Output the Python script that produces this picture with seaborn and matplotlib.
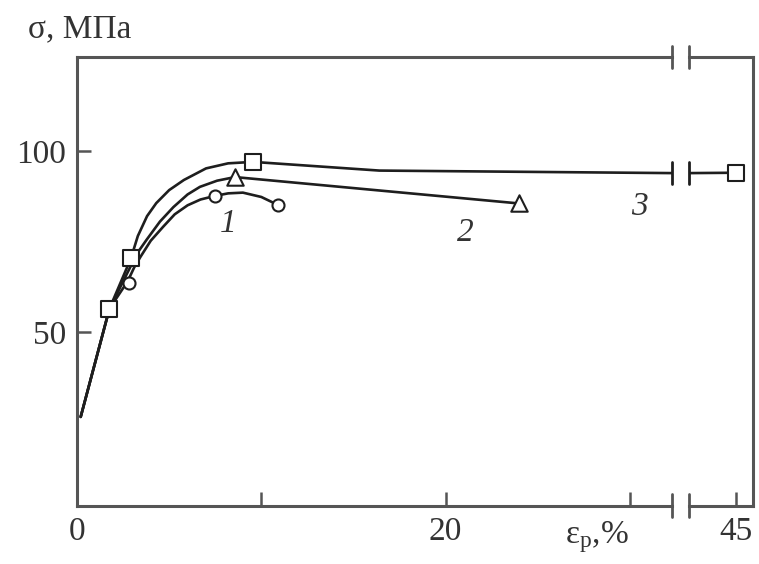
import matplotlib
matplotlib.use("Agg")
import matplotlib.pyplot as plt
import matplotlib.transforms as mtransforms
import seaborn as sns

# ---- data (strain eps_p, % ; stress sigma, MPa) ----
c1_strain = [0.2, 1.76, 2.75, 3.1, 3.45, 4.0, 4.68, 5.3, 6.0, 6.7, 7.49, 8.2, 9.0, 10.0, 10.9]
c1_stress = [26.5, 56.4, 64.0, 67.8, 70.8, 75.2, 79.1, 82.5, 85.0, 86.6, 87.6, 88.3, 88.5, 87.3, 85.1]
c1_mk_strain = [2.8, 7.49, 10.9]
c1_mk_stress = [63.5, 87.6, 85.1]

c2_strain = [0.2, 1.76, 2.8, 3.3, 3.78, 4.5, 5.23, 6.0, 6.67, 7.6, 8.57, 24.0]
c2_stress = [26.5, 56.4, 67.0, 72.0, 75.5, 80.5, 84.5, 88.0, 90.1, 91.8, 92.8, 85.5]
c2_mk_strain = [8.57, 24.0]
c2_mk_stress = [92.8, 85.5]

c3_strain = [0.2, 1.76, 2.93, 3.3, 3.8, 4.3, 5.0, 5.8, 7.0, 8.2, 9.55, 16.4, 32.28, 42.45, 45.0]
c3_stress = [26.5, 56.4, 70.4, 76.5, 82.0, 85.6, 89.2, 92.0, 95.2, 96.6, 97.0, 94.6, 93.9, 93.9, 94.0]
c3_mk_strain = [1.76, 2.93, 9.55, 45.0]
c3_mk_stress = [56.4, 70.4, 97.0, 94.0]

curve_labels = ["1", "2", "3"]
label_strain = [8.22, 21.05, 30.5]
label_stress = [80.0, 77.5, 84.5]

left_xticks = [0, 10, 20, 30]
left_xticklabels = ["0", "", "20", ""]
right_xticks = [45]
right_xticklabels = ["45"]
yticks = [50, 100]
yticklabels = ["50", "100"]

# ---- style ----
sns.set_theme(style="white")
plt.rcParams["font.family"] = ["Liberation Serif", "DejaVu Serif"]
plt.rcParams["mathtext.fontset"] = "custom"
plt.rcParams["mathtext.rm"] = "Liberation Serif"
plt.rcParams["mathtext.it"] = "Liberation Serif:italic"

FS = 24
LINE = "#1e1e1e"
SPINE = "#555555"
TXT = "#333333"

fig = plt.figure(figsize=(7.59, 5.64), dpi=100)
bot = 1 - 505.5 / 564
h = (505.5 - 57) / 564
axL = fig.add_axes([77 / 759, bot, (672 - 77) / 759, h])
axR = fig.add_axes([689 / 759, bot, 64 / 759, h])

for ax in (axL, axR):
    sns.lineplot(x=c1_strain, y=c1_stress, sort=False, estimator=None, ax=ax, color=LINE, lw=1.9)
    sns.lineplot(x=c2_strain, y=c2_stress, sort=False, estimator=None, ax=ax, color=LINE, lw=1.9)
    sns.lineplot(x=c3_strain, y=c3_stress, sort=False, estimator=None, ax=ax, color=LINE, lw=1.9)
    sns.scatterplot(x=c1_mk_strain, y=c1_mk_stress, ax=ax, marker="o", s=75,
                    facecolor="white", edgecolor=LINE, linewidth=1.5, zorder=4)
    sns.scatterplot(x=c2_mk_strain, y=c2_mk_stress, ax=ax, marker="^", s=140,
                    facecolor="white", edgecolor=LINE, linewidth=1.5, zorder=4)
    sns.scatterplot(x=c3_mk_strain, y=c3_mk_stress, ax=ax, marker="s", s=125,
                    facecolor="white", edgecolor=LINE, linewidth=1.5, zorder=4)
    ax.set_ylim(2, 126)
    ax.set_xlabel("")
    ax.set_ylabel("")
    for sp in ax.spines.values():
        sp.set_color(SPINE)
        sp.set_linewidth(2.2)
    ax.tick_params(direction="in", length=10, width=1.8, color=SPINE,
                   labelsize=FS, labelcolor=TXT, pad=8, bottom=True, left=True)

axL.set_xlim(0, 32.28)
axR.set_xlim(42.45, 45.92)
axL.spines["right"].set_visible(False)
axR.spines["left"].set_visible(False)

axL.set_xticks(left_xticks)
axL.set_xticklabels(left_xticklabels)
axL.set_yticks(yticks)
axL.set_yticklabels(yticklabels)
axR.set_xticks(right_xticks)
axR.set_xticklabels(right_xticklabels)
axR.set_yticks([])
axR.tick_params(left=False)

for lab, xs, ys in zip(curve_labels, label_strain, label_stress):
    axL.text(xs, ys, lab, fontsize=FS, fontstyle="italic", color=TXT,
             ha="center", va="center")

# break marks
d = 0.025
for ax, xa in ((axL, 1.0), (axR, 0.0)):
    for ya in (0.0, 1.0):
        ax.plot([xa, xa], [ya - d, ya + d], transform=ax.transAxes,
                color=SPINE, lw=2.0, clip_on=False)
    tr = mtransforms.blended_transform_factory(ax.transAxes, ax.transData)
    ax.plot([xa, xa], [93.9 - 3.0, 93.9 + 3.0], transform=tr,
            color=LINE, lw=2.0, clip_on=False)

fig.text(28 / 759, 1 - 29 / 564, "σ, МПа", fontsize=FS, color=TXT,
         ha="left", va="center")
fig.text(565 / 759, 1 - 537 / 564, "ε$_\\mathrm{р}$,%", fontsize=FS, color=TXT,
         ha="left", va="center")

fig.savefig("out.png", dpi=100)
